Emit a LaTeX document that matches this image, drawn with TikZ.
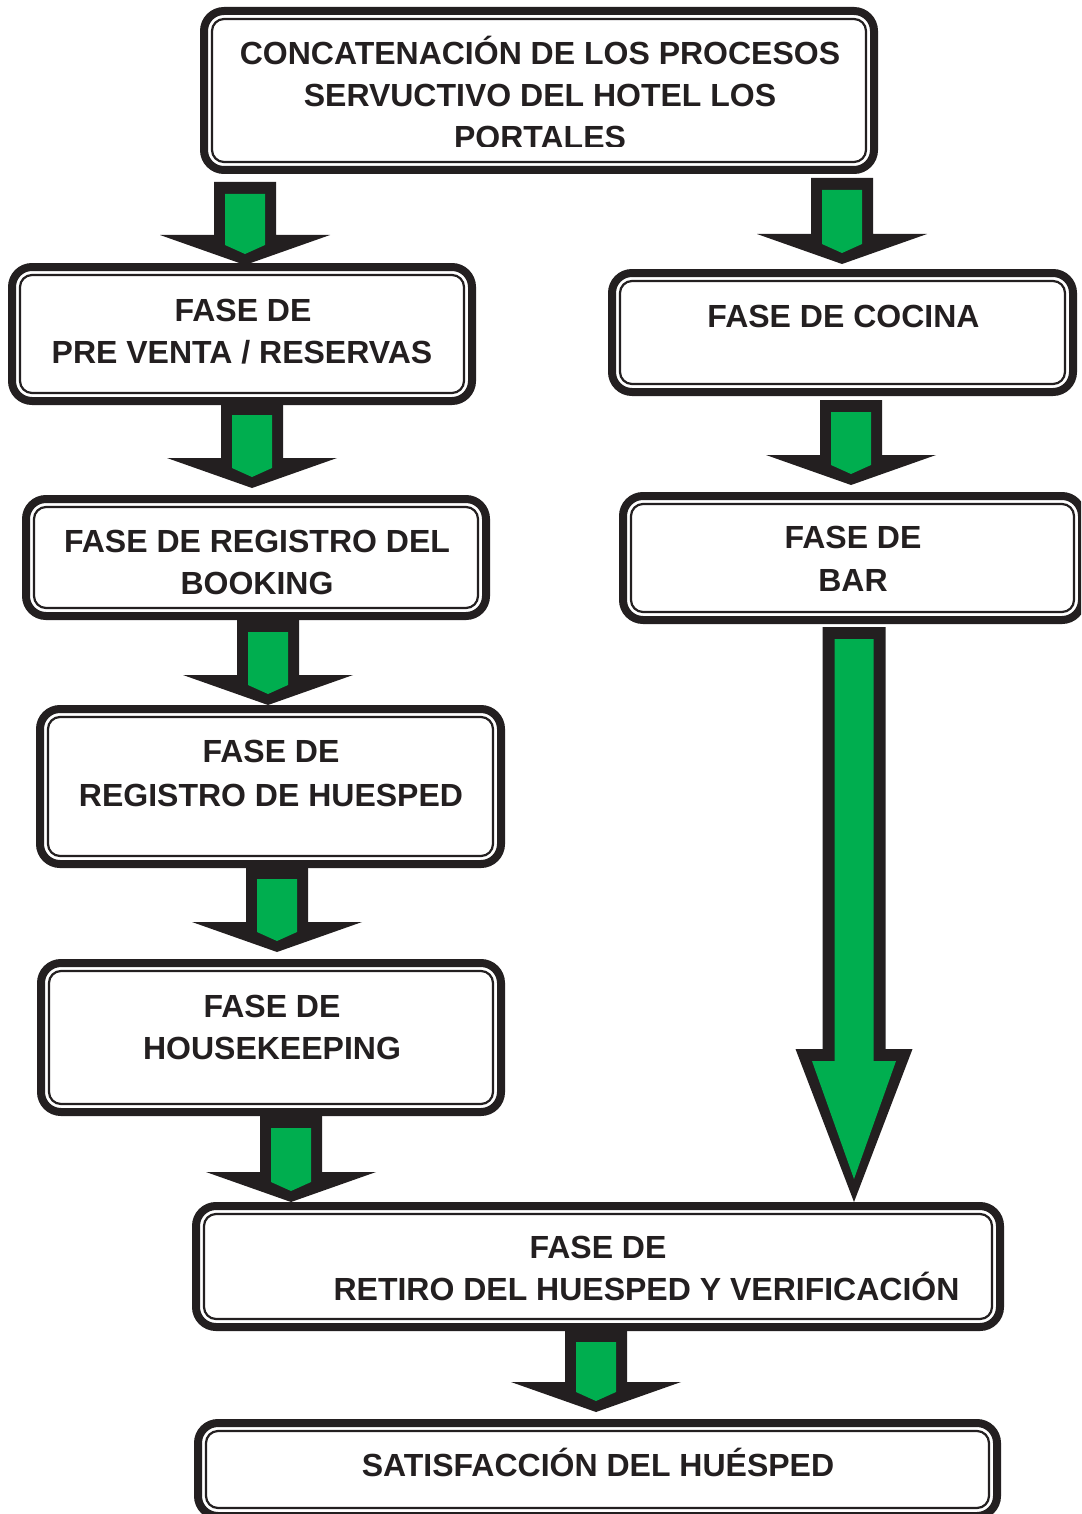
\documentclass[tikz,border=0pt]{standalone}
\usepackage{fontspec}
\setmainfont{Liberation Sans}
\usetikzlibrary{calc}

\definecolor{ink}{RGB}{35,31,32}
\definecolor{leaf}{RGB}{0,174,79}

\tikzset{
  phase/.style={draw=ink, line width=8pt, rounded corners=20pt, fill=white,
    inner sep=0pt,
    path picture={\draw[ink, line width=2.2pt, rounded corners=12pt]
      ([shift={(8pt,-8pt)}]path picture bounding box.north west) rectangle
      ([shift={(-8pt,8pt)}]path picture bounding box.south east);}},
  caption/.style={font=\fontsize{32}{42}\selectfont\bfseries, text=ink,
    anchor=base, inner sep=0pt},
}

% \phasebox{name}{left}{right}{top}{bottom}: outer edges of the thick frame
\newcommand\phasebox[5]{%
  \node[phase, minimum width={#3-#2-8}, minimum height={#5-#4-8}]
    (#1) at ({(#2+#3)/2},{(#4+#5)/2}) {};}

% \blockarrow{x}{from}{to}{gap below source}{gap above target}
% (anchors already sit on the outer edge of the frame)
\newcommand\blockarrow[5]{%
  \fill[ink] let \p1=(#1,0 |- #2.south), \p2=(#1,0 |- #3.north),
      \n1={\y1-#4}, \n2={\y2+#5} in
    (\x1-31pt,\n1) -- (\x1+31pt,\n1) -- (\x1+31pt,\n2+30pt) --
    (\x1+85pt,\n2+30pt) -- (\x1,\n2) -- (\x1-85pt,\n2+30pt) --
    (\x1-31pt,\n2+30pt) -- cycle;
  \fill[leaf] let \p1=(#1,0 |- #2.south), \p2=(#1,0 |- #3.north),
      \n1={\y1-#4}, \n2={\y2+#5} in
    (\x1-20pt,\n1-12pt) -- (\x1+20pt,\n1-12pt) -- (\x1+20pt,\n2+20pt) --
    (\x1,\n2+11pt) -- (\x1-20pt,\n2+20pt) -- cycle;}

\begin{document}
\begin{tikzpicture}[x=1pt,y=-1pt]
\fill[white] (0,0) rectangle (1081,1514);
\clip (0,0) rectangle (1081,1514);

% frames
\phasebox{top}{200}{878}{7}{174}
\phasebox{pre}{8}{476}{263}{405}
\phasebox{booking}{22}{490}{495}{620}
\phasebox{guest}{36}{505}{705}{868}
\phasebox{house}{37}{505}{959}{1116}
\phasebox{kitchen}{608}{1077}{269}{396}
\phasebox{bar}{619}{1086}{492}{624}
\phasebox{checkout}{192}{1004}{1202}{1331}
\phasebox{satisf}{194}{1001}{1419}{1520}

% captions
\begin{scope}
  \clip (200,0) rectangle (878,147);
  \node[caption] (top-1) at (540,65) {CONCATENACIÓN DE LOS PROCESOS};
  \node[caption] (top-2) at (540,107) {SERVUCTIVO DEL HOTEL LOS};
  \node[caption] (top-3) at (540,149) {PORTALES};
\end{scope}
\node[caption] (pre-1) at (243,321) {FASE DE};
\node[caption] (pre-2) at (242,363) {PRE VENTA / RESERVAS};
\node[caption] (booking-1) at (257,552) {FASE DE REGISTRO DEL};
\node[caption] (booking-2) at (257,594) {BOOKING};
\node[caption] (guest-1) at (271,762) {FASE DE};
\node[caption] (guest-2) at (271,806) {REGISTRO DE HUESPED};
\node[caption] (house-1) at (272,1017) {FASE DE};
\node[caption] (house-2) at (272,1059) {HOUSEKEEPING};
\node[caption] (kitchen-1) at (843.5,327) {FASE DE COCINA};
\node[caption] (bar-1) at (853,548) {FASE DE};
\node[caption] (bar-2) at (853,591) {BAR};
\node[caption] (checkout-1) at (598,1258) {FASE DE};
\node[caption] (checkout-2) at (646.5,1300) {RETIRO DEL HUESPED Y VERIFICACIÓN};
\node[caption] (satisf-1) at (598,1476) {SATISFACCIÓN DEL HUÉSPED};

% flow arrows
\blockarrow{245}{top}{pre}{8pt}{-2pt}
\blockarrow{842}{top}{kitchen}{4pt}{5pt}
\blockarrow{252}{pre}{booking}{-2pt}{7pt}
\blockarrow{268}{booking}{guest}{0pt}{0pt}
\blockarrow{277}{guest}{house}{-1pt}{7pt}
\blockarrow{291}{house}{checkout}{0pt}{0pt}
\blockarrow{851}{kitchen}{bar}{4pt}{7pt}
\blockarrow{596}{checkout}{satisf}{-1pt}{7pt}

% long arrow from the bar down to the check-out phase
\fill[ink] let \p1=(854,0 |- bar.south), \p2=(854,0 |- checkout.north),
    \n1={\y1-3pt}, \n2={\y2} in
  (\x1-31.5pt,\n1) -- (\x1+31.5pt,\n1) -- (\x1+31.5pt,\n2+153pt) --
  (\x1+58.5pt,\n2+153pt) -- (\x1,\n2) -- (\x1-58.5pt,\n2+153pt) --
  (\x1-31.5pt,\n2+153pt) -- cycle;
\fill[leaf] let \p1=(854,0 |- bar.south), \p2=(854,0 |- checkout.north),
    \n1={\y1-3pt}, \n2={\y2} in
  (\x1-19.5pt,\n1-12pt) -- (\x1+19.5pt,\n1-12pt) -- (\x1+19.5pt,\n2+141pt) --
  (\x1+42pt,\n2+141pt) -- (\x1,\n2+23pt) -- (\x1-42pt,\n2+141pt) --
  (\x1-19.5pt,\n2+141pt) -- cycle;
\end{tikzpicture}
\end{document}
